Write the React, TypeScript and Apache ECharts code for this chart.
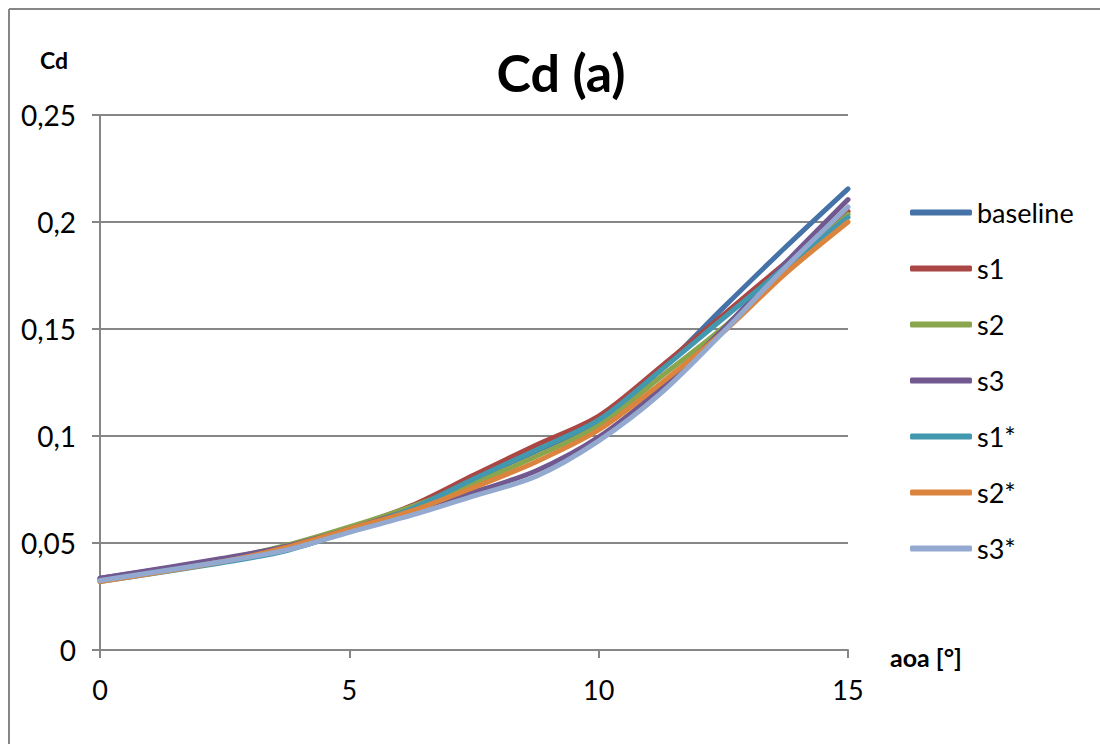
import React, { useEffect, useRef } from "react";
import * as echarts from "echarts";

const aoa = [0, 2.5, 3.75, 5, 6.25, 7.5, 8.75, 10, 11.25, 12.5, 13.75, 15];
const seriesNames = ["baseline", "s1", "s2", "s3", "s1*", "s2*", "s3*"];
const baseline = [0.0335, 0.0425, 0.0485, 0.057, 0.067, 0.0800, 0.0930, 0.1070, 0.1310, 0.1600, 0.1883, 0.2155];
const s1 = [0.0330, 0.0425, 0.0485, 0.057, 0.0675, 0.0818, 0.0958, 0.1093, 0.1324, 0.1566, 0.1810, 0.2050];
const s2 = [0.0330, 0.0425, 0.0490, 0.0575, 0.067, 0.0780, 0.0905, 0.1050, 0.1277, 0.1507, 0.1775, 0.2035];
const s3 = [0.0335, 0.0430, 0.0485, 0.0565, 0.0655, 0.0738, 0.0838, 0.0995, 0.1224, 0.1500, 0.1810, 0.2105];
const s1s = [0.0320, 0.0410, 0.0465, 0.0555, 0.066, 0.0800, 0.0935, 0.1075, 0.1308, 0.1550, 0.1790, 0.2022];
const s2s = [0.0320, 0.0415, 0.0480, 0.0565, 0.065, 0.0760, 0.0880, 0.1028, 0.1246, 0.1486, 0.1760, 0.2000];
const s3s = [0.0325, 0.0415, 0.0468, 0.0550, 0.063, 0.0720, 0.0812, 0.0977, 0.1200, 0.1486, 0.1790, 0.2070];
const colors = ["#4572A7", "#AA4643", "#89A54E", "#71588F", "#4198AF", "#DB843D", "#93A9CF"];
const yTicks = { min: 0, max: 0.25, interval: 0.05 };
const xTicks = { min: 0, max: 15, interval: 5 };

const FONT = "Lato, 'Liberation Sans', sans-serif";

export default function App() {
  const ref = useRef<HTMLDivElement>(null);
  useEffect(() => {
    if (!ref.current) return;
    const chart = echarts.init(ref.current, null, { renderer: "svg" });
    const all = [baseline, s1, s2, s3, s1s, s2s, s3s];
    chart.setOption({
      animation: false,
      backgroundColor: "#ffffff",
      textStyle: { fontFamily: FONT },
      title: {
        text: "Cd (a)",
        left: 556,
        top: 41,
        textAlign: "center",
        textStyle: { fontFamily: FONT, fontSize: 52, fontWeight: "bold", color: "#000" },
      },
      graphic: [
        {
          type: "line",
          shape: { x1: 9, y1: 9, x2: 9, y2: 760 },
          style: { stroke: "#868686", lineWidth: 2 },
          silent: true,
        },
        {
          type: "line",
          shape: { x1: 9, y1: 9, x2: 1110, y2: 9 },
          style: { stroke: "#868686", lineWidth: 2 },
          silent: true,
        },
      ],
      legend: {
        orient: "vertical",
        left: 910,
        top: 199,
        padding: 0,
        itemWidth: 62,
        itemHeight: 6,
        itemGap: 29,
        icon: "roundRect",
        textStyle: { fontFamily: FONT, fontSize: 27, color: "#000", lineHeight: 27 },
        data: seriesNames,
      },
      grid: { left: 100, right: 252, top: 115, bottom: 94 },
      xAxis: {
        type: "value",
        min: xTicks.min,
        max: xTicks.max,
        interval: xTicks.interval,
        name: "aoa [°]",
        nameLocation: "end",
        nameGap: 0,
        nameTextStyle: { fontFamily: FONT, fontSize: 25, fontWeight: "bold", color: "#000", align: "left", verticalAlign: "top", lineHeight: 14, padding: [0, 0, 0, 42] },
        axisLine: { show: true, lineStyle: { color: "#868686", width: 2 } },
        axisTick: { show: true, length: 8, lineStyle: { color: "#868686", width: 2 } },
        splitLine: { show: false },
        axisLabel: { fontFamily: FONT, fontSize: 27, color: "#000", margin: 26 },
      },
      yAxis: {
        type: "value",
        min: yTicks.min,
        max: yTicks.max,
        interval: yTicks.interval,
        name: "Cd",
        nameLocation: "end",
        nameGap: 44,
        nameTextStyle: { fontFamily: FONT, fontSize: 23, fontWeight: "bold", color: "#000", align: "center", padding: [0, 0, 0, -92] },
        axisLine: { show: true, lineStyle: { color: "#868686", width: 2 } },
        axisTick: { show: true, length: 8, lineStyle: { color: "#868686", width: 2 } },
        splitLine: { show: true, lineStyle: { color: "#868686", width: 2 } },
        axisLabel: {
          fontFamily: FONT,
          fontSize: 28,
          color: "#000",
          margin: 24,
          formatter: (v: number) => (v === 0 ? "0" : String(Math.round(v * 100) / 100).replace(".", ",")),
        },
      },
      series: seriesNames.map((n, i) => ({
        name: n,
        type: "line",
        data: aoa.map((x, j) => [x, all[i][j]]),
        smooth: 0.3,
        symbol: "none",
        lineStyle: { color: colors[i], width: 5, cap: "round" },
        itemStyle: { color: colors[i] },
        z: 2 + i,
      })),
    });
    return () => chart.dispose();
  }, []);
  return <div ref={ref} style={{ position: "fixed", left: 0, top: 0, width: 1100, height: 744 }} />;
}
